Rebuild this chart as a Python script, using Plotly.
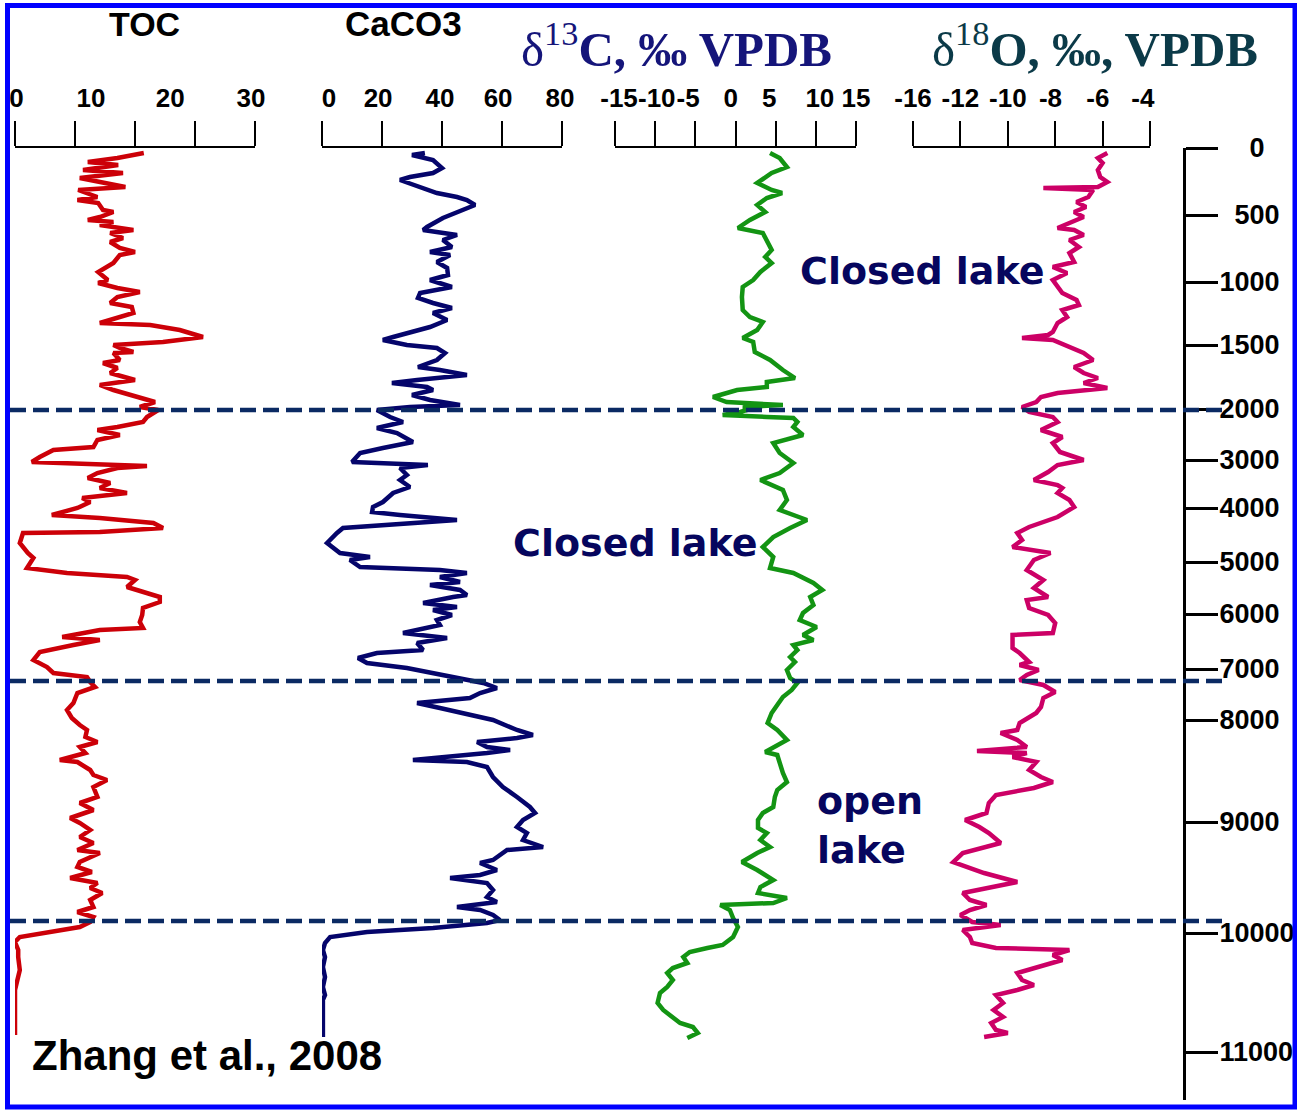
import plotly.graph_objects as go

# ---------------- data (depth axis: cm below top of record) ----------------
age_labels = ['0', '500', '1000', '1500', '2000', '3000', '4000', '5000', '6000',
              '7000', '8000', '9000', '10000', '11000']
age_tick_depth = [0, 67, 134, 197, 261, 312, 360, 414, 466, 521, 572, 674, 785, 904]
boundary_depth = [262, 533, 773]

toc_depth = [5, 10, 14, 17, 22, 25, 30, 34, 39, 42,
             49, 52, 55, 62, 64, 69, 72, 74, 77, 82,
             85, 90, 94, 100, 104, 107, 115, 124, 132, 135,
             140, 144, 149, 155, 159, 165, 175, 177, 182, 189,
             194, 197, 200, 204, 205, 212, 215, 220, 225, 232,
             237, 242, 249, 254, 259, 262, 269, 274, 279, 282,
             287, 292, 299, 302, 309, 314, 317, 318, 320, 325,
             330, 335, 340, 345, 350, 354, 360, 367, 370, 375,
             380, 384, 385, 395, 405, 410, 420, 425, 429, 432,
             439, 444, 449, 454, 460, 467, 474, 480, 482, 489,
             492, 497, 504, 512, 519, 525, 529, 534, 539, 545,
             555, 562, 570, 577, 582, 589, 594, 599, 605, 612,
             614, 622, 627, 632, 639, 649, 655, 662, 670, 675,
             682, 689, 695, 702, 705, 714, 719, 724, 730, 735,
             740, 745, 752, 759, 764, 769, 774, 779, 784, 789,
             794, 802, 809, 822, 832, 842, 887]
toc = [16.1, 12.8, 9.1, 12.9, 8.5, 13.5, 8.1, 10.6, 13.8, 7.9,
       10.3, 7.8, 10.4, 11.0, 12.3, 10.6, 9.1, 12.3, 10.6, 14.8,
       11.9, 13.5, 11.9, 13.1, 15.0, 13.1, 12.3, 10.4, 11.6, 10.4,
       12.8, 15.6, 12.8, 11.9, 14.6, 14.8, 10.6, 16.9, 20.6, 23.5,
       18.5, 12.3, 13.1, 14.8, 12.3, 13.1, 11.0, 12.8, 11.9, 15.0,
       10.6, 12.3, 15.6, 17.5, 15.6, 17.9, 16.5, 16.0, 12.8, 10.3,
       13.1, 10.3, 9.8, 4.8, 3.1, 2.1, 12.8, 16.5, 12.8, 10.3,
       9.1, 11.9, 10.6, 14.0, 8.4, 9.4, 7.8, 4.6, 10.6, 17.3,
       18.5, 10.6, 1.0, 0.6, 1.6, 2.3, 1.5, 6.5, 14.0, 15.0,
       14.0, 16.0, 18.1, 18.1, 16.0, 15.9, 15.6, 16.0, 10.6, 5.9,
       10.6, 7.3, 3.1, 2.3, 4.0, 4.8, 9.0, 9.4, 10.0, 7.8,
       7.3, 6.5, 7.1, 8.1, 9.0, 8.8, 10.3, 8.1, 8.8, 5.6,
       7.8, 9.4, 9.8, 11.5, 9.8, 10.3, 8.1, 9.8, 6.9, 8.1,
       9.4, 8.1, 9.8, 7.8, 10.6, 8.1, 7.8, 9.6, 6.9, 10.3,
       9.4, 10.9, 9.4, 9.8, 7.8, 9.8, 9.4, 8.1, 4.0, 0.6,
       0.0, 0.4, 0.4, 0.6, 0.3, 0.0, 0.0]

caco3_depth = [5, 7, 12, 20, 25, 29, 32, 39, 45, 49,
               52, 57, 62, 70, 79, 82, 87, 92, 99, 104,
               107, 114, 120, 127, 132, 139, 145, 150, 155, 160,
               165, 172, 179, 184, 189, 192, 197, 200, 205, 212,
               219, 222, 227, 232, 235, 239, 242, 247, 252, 257,
               259, 262, 269, 274, 280, 285, 294, 300, 305, 314,
               317, 320, 327, 332, 339, 345, 354, 359, 364, 367,
               372, 380, 385, 395, 405, 409, 412, 419, 422, 425,
               429, 434, 437, 442, 447, 449, 455, 459, 462, 467,
               472, 477, 485, 490, 495, 502, 505, 510, 515, 520,
               525, 530, 535, 540, 545, 550, 555, 560, 565, 572,
               582, 587, 590, 594, 599, 602, 605, 612, 614, 619,
               629, 639, 649, 659, 665, 672, 679, 685, 692, 699,
               702, 707, 712, 715, 722, 727, 730, 735, 742, 749,
               754, 759, 762, 767, 772, 775, 780, 784, 789, 795,
               802, 809, 819, 829, 839, 847, 852, 889]
caco3 = [34.3, 30.0, 37.0, 40.0, 37.0, 29.3, 26.0, 32.7, 38.3, 45.0,
         48.3, 51.0, 47.0, 40.3, 35.0, 33.7, 45.0, 40.3, 43.3, 36.0,
         42.7, 38.3, 41.7, 42.0, 36.0, 43.3, 32.7, 32.0, 37.0, 43.3,
         37.0, 41.7, 36.0, 29.3, 23.7, 20.3, 28.3, 38.3, 41.0, 38.3,
         32.0, 39.3, 48.3, 31.7, 23.3, 35.0, 37.0, 30.0, 36.0, 46.0,
         29.3, 18.3, 22.7, 27.0, 18.3, 25.0, 30.3, 20.3, 12.7, 10.0,
         35.3, 26.0, 28.3, 26.0, 29.3, 23.7, 20.3, 17.0, 16.7, 26.0,
         45.0, 7.0, 5.0, 1.7, 6.0, 16.0, 9.3, 12.7, 39.3, 48.3,
         39.3, 46.0, 36.0, 46.0, 48.3, 43.7, 33.7, 45.0, 37.0, 43.3,
         38.3, 39.3, 27.0, 41.7, 31.7, 33.7, 18.3, 12.0, 15.0, 28.3,
         37.0, 46.0, 53.7, 58.3, 52.7, 49.3, 31.7, 39.3, 47.0, 57.0,
         65.0, 70.3, 65.0, 51.7, 55.0, 62.7, 55.0, 30.3, 48.3, 55.0,
         57.0, 60.3, 65.0, 69.3, 71.0, 67.0, 65.0, 68.3, 67.0, 73.7,
         61.7, 59.3, 57.0, 52.7, 58.3, 52.7, 42.7, 55.0, 57.0, 55.0,
         58.3, 45.0, 52.7, 57.0, 59.3, 55.0, 37.0, 15.0, 2.7, 1.0,
         0.3, 1.0, 0.3, 1.0, 0.3, 1.0, 0.3, 0.3]

d13c_depth = [5, 10, 19, 25, 35, 42, 45, 50, 57, 64,
              72, 80, 85, 92, 102, 109, 115, 124, 132, 139,
              149, 162, 169, 174, 182, 190, 194, 204, 212, 222,
              230, 234, 239, 242, 249, 254, 257, 259, 260, 264,
              267, 269, 270, 274, 279, 287, 295, 305, 315, 325,
              332, 342, 352, 362, 372, 380, 389, 399, 409, 420,
              425, 435, 442, 449, 457, 465, 472, 479, 487, 492,
              497, 502, 509, 514, 522, 530, 535, 542, 549, 557,
              565, 575, 582, 592, 599, 604, 607, 615, 625, 634,
              642, 649, 659, 665, 672, 680, 685, 692, 699, 705,
              714, 722, 732, 739, 745, 750, 755, 757, 762, 770,
              779, 789, 797, 800, 804, 809, 815, 820, 825, 832,
              839, 845, 855, 862, 869, 875, 879, 885, 890]
d13c = [4.3, 5.5, 6.4, 4.5, 2.7, 4.5, 5.8, 3.9, 2.7, 3.7,
        1.8, 0.3, 3.4, 3.9, 4.5, 3.7, 4.5, 3.1, 2.2, 0.9,
        0.8, 0.9, 1.8, 3.4, 2.7, 0.9, 2.2, 2.4, 4.3, 5.9,
        7.4, 3.9, 3.9, 0.2, -2.8, -1.1, 5.9, 0.9, 2.2, 0.6,
        -1.6, 3.9, 7.2, 7.7, 7.2, 8.4, 4.7, 5.5, 7.2, 5.5,
        3.1, 5.9, 6.4, 5.5, 8.9, 6.8, 4.7, 3.4, 4.7, 4.3,
        7.2, 9.7, 10.8, 9.3, 9.7, 8.4, 8.0, 10.1, 8.4, 9.7,
        7.2, 7.7, 6.8, 7.4, 6.4, 6.8, 7.7, 7.0, 5.9, 5.2,
        4.5, 4.0, 5.2, 6.4, 4.7, 3.7, 5.2, 5.5, 5.9, 6.4,
        5.2, 4.9, 4.7, 3.4, 2.8, 2.8, 3.9, 3.1, 4.3, 2.7,
        0.8, 2.7, 4.7, 3.1, 2.8, 6.4, 4.7, -1.9, -0.7, -0.3,
        0.3, -0.3, -1.6, -3.5, -5.7, -6.5, -6.0, -7.8, -8.5, -7.8,
        -8.5, -9.4, -9.7, -9.0, -7.8, -6.9, -5.3, -4.7, -6.0]

d18o_depth = [5, 10, 15, 22, 29, 34, 39, 40, 42, 49,
              54, 59, 64, 69, 75, 80, 82, 87, 92, 99,
              105, 114, 119, 125, 132, 139, 145, 152, 157, 162,
              169, 175, 184, 187, 190, 192, 199, 205, 212, 219,
              225, 230, 235, 240, 245, 249, 254, 259, 264, 269,
              274, 282, 289, 295, 304, 312, 317, 324, 332, 337,
              340, 345, 352, 359, 369, 379, 385, 392, 399, 405,
              412, 422, 432, 440, 449, 452, 460, 467, 475, 485,
              487, 492, 500, 505, 514, 517, 522, 527, 532, 537,
              544, 550, 559, 565, 570, 575, 582, 585, 592, 599,
              603, 605, 609, 614, 622, 629, 634, 640, 647, 655,
              665, 672, 679, 685, 695, 700, 705, 714, 725, 734,
              740, 745, 752, 757, 762, 767, 774, 777, 782, 789,
              795, 800, 802, 807, 812, 819, 825, 832, 837, 842,
              847, 855, 862, 869, 875, 882, 885, 889]
d18o = [-5.8, -6.2, -6.0, -6.2, -6.1, -5.8, -6.2, -8.5, -6.4, -6.6,
        -7.1, -6.7, -7.2, -6.8, -7.4, -7.9, -7.2, -6.8, -7.4, -7.0,
        -7.4, -7.2, -8.1, -7.5, -8.1, -7.9, -7.7, -7.1, -7.0, -7.7,
        -7.5, -7.9, -8.1, -8.3, -9.4, -8.1, -7.4, -6.8, -6.4, -7.2,
        -6.8, -6.2, -6.8, -5.8, -7.9, -8.6, -8.8, -9.4, -9.1, -8.1,
        -7.9, -8.6, -7.7, -8.1, -7.8, -6.8, -7.9, -8.3, -8.9, -7.9,
        -7.7, -7.9, -7.4, -7.2, -7.9, -9.1, -9.6, -9.4, -9.8, -8.2,
        -8.9, -9.2, -8.5, -8.9, -8.3, -9.2, -9.1, -8.3, -8.0, -8.1,
        -9.8, -9.8, -9.8, -9.5, -9.1, -9.5, -8.7, -9.2, -9.5, -8.5,
        -8.0, -8.5, -8.6, -8.8, -9.2, -9.5, -9.6, -10.3, -9.6, -9.2,
        -11.3, -9.2, -9.8, -8.8, -9.1, -8.6, -8.1, -8.9, -10.5, -10.8,
        -10.9, -11.8, -11.2, -10.8, -10.3, -11.2, -11.9, -12.3, -11.0, -9.6,
        -10.8, -11.9, -11.6, -10.9, -11.6, -12.0, -11.5, -10.3, -11.9, -11.6,
        -11.5, -10.5, -7.4, -8.1, -7.7, -8.8, -9.6, -9.4, -8.9, -9.6,
        -10.5, -10.2, -10.6, -10.2, -10.7, -10.5, -10.0, -11.0]

# axis scales and tick labels of the four panels
toc_ticks = [0, 7.5, 15, 22.5, 30]
toc_labels = ['0', '10', '20', '30']
caco3_ticks = [0, 20, 40, 60, 80]
caco3_labels = ['0', '20', '40', '60', '80']
d13c_ticks = [-15, -10, -5, 0, 5, 10, 15]
d13c_labels = ['-15', '-10', '-5', '0', '5', '10', '15']
d18o_ticks = [-14, -12, -10, -8, -6, -4]
d18o_labels = ['-16', '-12', '-10', '-8', '-6', '-4']

# ---------------- layout helpers ----------------
W, H = 1297, 1110
TOP, BOT = 148, 1100
DEPTH_MAX = BOT - TOP


def fx(p):
    return p / W


def fy(p):
    return (BOT - p) / (BOT - TOP)


SANS = 'Liberation Sans, Arial, sans-serif'
SERIF = 'Liberation Serif, Times New Roman, serif'

panels = [
    dict(x=toc, y=toc_depth, color='#cc0008', dom=(15, 255), rng=[0, 30],
         ticks=toc_ticks, labpos=[0.2, 9.5, 19.4, 29.5], labels=toc_labels),
    dict(x=caco3, y=caco3_depth, color='#05056b', dom=(322, 562), rng=[0, 80],
         ticks=caco3_ticks, labpos=[2.3, 18.7, 39.3, 58.7, 79.3], labels=caco3_labels),
    dict(x=d13c, y=d13c_depth, color='#139413', dom=(615, 856), rng=[-15, 15],
         ticks=d13c_ticks, labpos=[-14.5, -9.8, -5.9, -0.6, 4.2, 10.5, 15], labels=d13c_labels),
    dict(x=d18o, y=d18o_depth, color='#cc0066', dom=(913, 1150), rng=[-14, -4],
         ticks=d18o_ticks, labpos=[-14, -12, -10, -8.2, -6.2, -4.3], labels=d18o_labels),
]

fig = go.Figure()
layout_axes = {}
for i, p in enumerate(panels):
    n_tick = 2 * i + 1
    n_lab = 2 * i + 2
    ref_tick = 'x' if n_tick == 1 else f'x{n_tick}'
    ref_lab = f'x{n_lab}'
    key_tick = 'xaxis' if n_tick == 1 else f'xaxis{n_tick}'
    key_lab = f'xaxis{n_lab}'
    assert len(p['x']) == len(p['y'])
    fig.add_trace(go.Scatter(x=p['x'], y=p['y'], xaxis=ref_tick, yaxis='y', mode='lines',
                             line=dict(color=p['color'], width=4.5), hoverinfo='skip',
                             showlegend=False))
    fig.add_trace(go.Scatter(x=[p['rng'][0]], y=[0], xaxis=ref_lab, yaxis='y', mode='markers',
                             marker=dict(opacity=0, size=1), hoverinfo='skip', showlegend=False))
    layout_axes[key_tick] = dict(
        domain=[fx(p['dom'][0]), fx(p['dom'][1])], range=p['rng'], side='top', anchor='y',
        showline=True, linecolor='black', linewidth=2, ticks='outside', ticklen=25,
        tickwidth=2, tickcolor='black', tickmode='array', tickvals=p['ticks'],
        showticklabels=False, showgrid=False, zeroline=False, fixedrange=True,
        automargin=False)
    layout_axes[key_lab] = dict(
        overlaying=ref_tick, range=p['rng'], side='top', anchor='y',
        showline=False, ticks='outside', ticklen=30, tickcolor='rgba(0,0,0,0)',
        tickmode='array', tickvals=p['labpos'], ticktext=p['labels'], tickangle=0,
        showgrid=False, zeroline=False, fixedrange=True, automargin=False,
        tickfont=dict(family=SANS, size=26, color='black', weight='bold'))

pad = {'0': '\u00a0' * 4 + '0', '500': '\u00a0\u00a0500'}
age_text = [pad.get(t, t) for t in age_labels]

fig.update_layout(
    width=W, height=H, autosize=False, template='none',
    margin=dict(l=0, r=0, t=TOP, b=H - BOT, pad=0),
    paper_bgcolor='white', plot_bgcolor='white',
    showlegend=False,
    yaxis=dict(domain=[0, 1], range=[DEPTH_MAX, 0], anchor='free', position=fx(1184),
               side='right', tickmode='array', tickvals=age_tick_depth, ticktext=age_text,
               showline=True, linecolor='black', linewidth=3, ticks='outside', ticklen=32,
               tickwidth=3, tickcolor='black', showgrid=False, zeroline=False,
               fixedrange=True, automargin=False, ticklabelstandoff=-4,
               tickfont=dict(family=SANS, size=27, color='black', weight='bold')),
    **layout_axes,
)

# zone boundaries (dashed)
for d in boundary_depth:
    fig.add_shape(type='line', xref='paper', yref='y', x0=fx(10), x1=fx(1222), y0=d, y1=d,
                  line=dict(color='#0b2a63', width=4.5, dash='16px,7px'), layer='above')

# blue frame
fig.add_shape(type='rect', xref='paper', yref='paper', x0=fx(7.5), x1=fx(1295),
              y0=fy(1107), y1=fy(5.5), line=dict(color='#0000ff', width=5), layer='above')

# titles
fig.add_annotation(x=fx(144), y=fy(24), xref='paper', yref='paper', text='TOC',
                   showarrow=False, xanchor='center', yanchor='middle',
                   font=dict(family=SANS, size=34, color='black', weight='bold'))
fig.add_annotation(x=fx(403), y=fy(23), xref='paper', yref='paper', text='CaCO3',
                   showarrow=False, xanchor='center', yanchor='middle',
                   font=dict(family=SANS, size=35, color='black', weight='bold'))
fig.add_annotation(x=fx(676), y=fy(46), xref='paper', yref='paper',
                   text='δ<sup>13</sup><b>C, ‰ VPDB</b>',
                   showarrow=False, xanchor='center', yanchor='middle',
                   font=dict(family=SERIF, size=49, color='#15157a'))
fig.add_annotation(x=fx(1095), y=fy(46), xref='paper', yref='paper',
                   text='δ<sup>18</sup><b>O, ‰, VPDB</b>',
                   showarrow=False, xanchor='center', yanchor='middle',
                   font=dict(family=SERIF, size=49, color='#0b3a48'))

# zone labels
LAKE = dict(family='DejaVu Sans, Verdana, sans-serif', size=38, color='#06065e', weight='bold')
fig.add_annotation(x=fx(798), y=fy(271), xref='paper', yref='paper', text='Closed lake',
                   showarrow=False, xanchor='left', yanchor='middle', font=LAKE)
fig.add_annotation(x=fx(511), y=fy(543), xref='paper', yref='paper', text='Closed lake',
                   showarrow=False, xanchor='left', yanchor='middle', font=LAKE)
fig.add_annotation(x=fx(815), y=fy(825), xref='paper', yref='paper', text='open<br>lake',
                   showarrow=False, xanchor='left', yanchor='middle', align='left', font=LAKE)
fig.add_annotation(x=fx(30), y=fy(1055), xref='paper', yref='paper', text='Zhang et al., 2008',
                   showarrow=False, xanchor='left', yanchor='middle',
                   font=dict(family=SANS, size=42, color='black', weight='bold'))

fig.write_html('out.html')
